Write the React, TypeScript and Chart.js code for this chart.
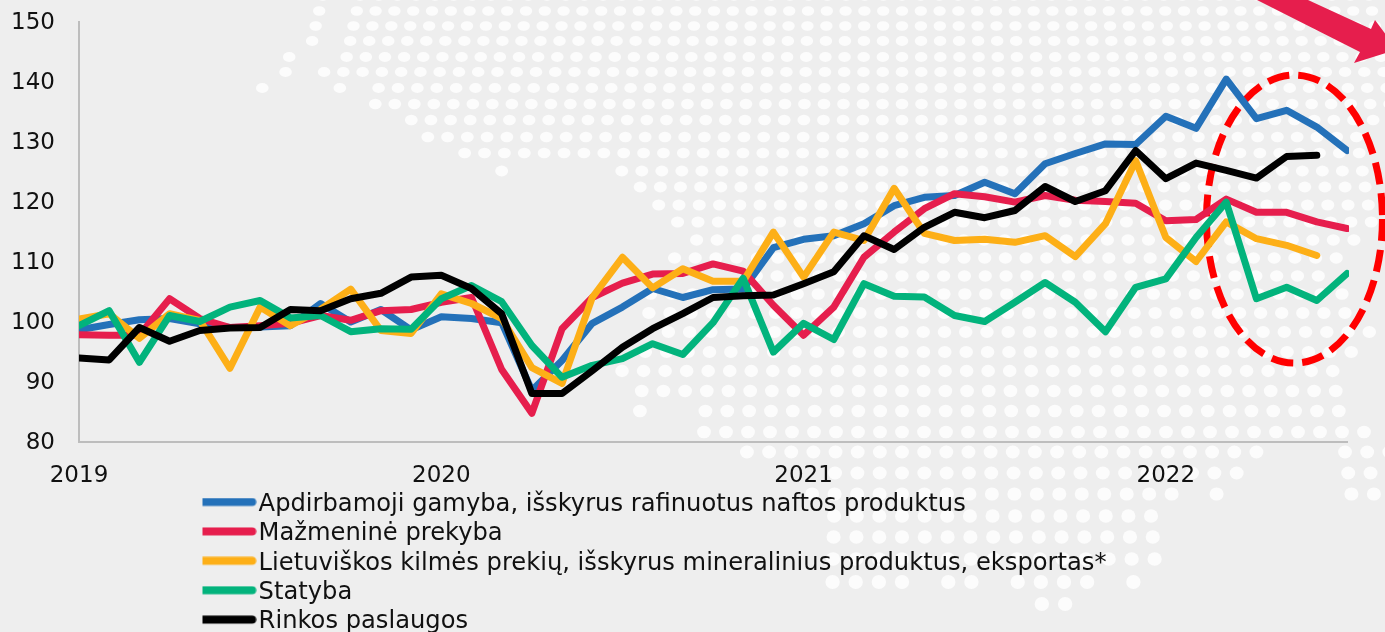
import React, { useEffect, useRef } from "react";
import { Chart, registerables } from "chart.js";

Chart.register(...registerables);

const years = ["2019", "2020", "2021", "2022"];
const months = ["01", "02", "03", "04", "05", "06", "07", "08", "09", "10", "11", "12"];
const categories = [
  ...years.slice(0, 3).flatMap((y) => months.map((m) => `${y}-${m}`)),
  ...months.slice(0, 7).map((m) => `2022-${m}`),
];

const manufacturing = [98.6, 99.5, 100.3, 100.5, 99.6, 99, 99.1, 99.3, 103, 99.9, 102, 98.6, 100.8, 100.5, 99.8, 88.5, 93.5, 99.7, 102.4, 105.5, 104, 105.3, 105.4, 112.3, 113.7, 114.3, 116.3, 119.3, 120.7, 121, 123.2, 121.3, 126.3, 128, 129.6, 129.5, 134.2, 132.2, 140.4, 133.8, 135.2, 132.4, 128.5];
const retail = [97.8, 97.7, 97.7, 103.8, 100.5, 99, 99.3, 99.7, 101, 100.2, 101.8, 102, 103.2, 104, 92, 84.7, 98.8, 104, 106.4, 107.9, 108, 109.6, 108.4, 102.7, 97.7, 102.4, 110.7, 114.9, 118.8, 121.3, 120.8, 119.9, 121, 120.2, 120, 119.7, 116.8, 117, 120.4, 118.2, 118.2, 116.6, 115.5];
const exportsLt = [100.4, 101.3, 97.2, 101.3, 100.2, 92.2, 102.4, 99.3, 102, 105.4, 98.5, 98, 104.6, 103, 100.5, 92.3, 89.7, 104, 110.7, 105.6, 108.8, 106.7, 106.7, 114.9, 107.4, 114.9, 113.5, 122.2, 114.7, 113.5, 113.7, 113.2, 114.3, 110.8, 116.3, 126.8, 114, 110, 116.6, 113.8, 112.7, 111];
const construction = [99.3, 101.8, 93.2, 101, 100, 102.4, 103.5, 100.6, 101, 98.3, 98.8, 98.7, 103.8, 106, 103.3, 96, 90.7, 92.7, 93.8, 96.3, 94.5, 99.8, 107.2, 94.9, 99.7, 97, 106.3, 104.2, 104.1, 101, 100, 103.2, 106.5, 103.2, 98.3, 105.7, 107.1, 114, 119.9, 103.8, 105.7, 103.5, 108];
const services = [93.9, 93.6, 99, 96.7, 98.5, 98.9, 99, 102, 101.8, 103.8, 104.7, 107.4, 107.7, 105.5, 101.3, 88, 88, 91.8, 95.7, 98.8, 101.3, 104, 104.3, 104.4, 106.3, 108.3, 114.3, 112, 115.7, 118.2, 117.3, 118.5, 122.5, 120, 121.8, 128.5, 123.8, 126.4, 125.2, 123.9, 127.5, 127.7];

const seriesNames = [
  "Apdirbamoji gamyba, išskyrus rafinuotus naftos produktus",
  "Mažmeninė prekyba",
  "Lietuviškos kilmės prekių, išskyrus mineralinius produktus, eksportas*",
  "Statyba",
  "Rinkos paslaugos",
];
const seriesColors = ["#2471b9", "#e61e4d", "#fdaf17", "#02b37c", "#000000"];
const seriesValues = [manufacturing, retail, exportsLt, construction, services];

// Decorative dotted world-map background: [row y, [first column, last column] runs]
const mapRows: [number, [number, number][]][] = [
  [-4, [[-31, -31], [-29, 25]]],
  [11, [[-31, -31], [-29, 25]]],
  [26, [[-31, -31], [-29, 25]]],
  [41, [[-31, -31], [-29, 25]]],
  [57, [[-32, -32], [-29, 25]]],
  [72, [[-32, -32], [-30, 25]]],
  [88, [[-33, -33], [-29, -29], [-27, 25]]],
  [104, [[-27, 25]]],
  [120, [[-25, 24]]],
  [137, [[-24, 23]]],
  [153, [[-22, 23]]],
  [171, [[-20, -20], [-14, 23]]],
  [187, [[-13, 23]]],
  [205, [[-12, 23]]],
  [222, [[-11, 23]]],
  [240, [[-10, 22]]],
  [258, [[-11, 21]]],
  [276, [[-7, 20]]],
  [294, [[-12, 21]]],
  [313, [[-12, 21]]],
  [332, [[-11, 22]]],
  [352, [[-12, 21]]],
  [371, [[-13, 20]]],
  [391, [[-12, 20]]],
  [411, [[-12, -12], [-9, 20]]],
  [432, [[-9, 21]]],
  [452, [[-7, 16], [20, 22]]],
  [473, [[-3, 15], [20, 21]]],
  [494, [[-4, 12], [14, 14], [20, 21]]],
  [516, [[-3, 11]]],
  [537, [[-3, 11]]],
  [559, [[-3, 11]]],
  [582, [[-3, 0], [2, 3], [5, 8], [10, 10]]],
  [604, [[6, 7]]],
];

const FONT = "'DejaVu Sans'";
const TICK_SIZE = 23;
const LEGEND_SIZE = 24.2;

function legendSwatch(color: string): HTMLCanvasElement {
  const c = document.createElement("canvas");
  c.width = 59;
  c.height = 14;
  const g = c.getContext("2d")!;
  g.strokeStyle = color;
  g.lineWidth = 8;
  g.lineCap = "round";
  g.beginPath();
  g.moveTo(4.5, 4.5);
  g.lineTo(54.5, 4.5);
  g.stroke();
  return c;
}

const decorations = {
  id: "decorations",
  beforeDraw(chart: any) {
    const { ctx, width, height } = chart;
    ctx.save();
    ctx.fillStyle = "#eeeeee";
    ctx.fillRect(0, 0, width, height);
    ctx.fillStyle = "#fcfcfc";
    for (const [y, runs] of mapRows) {
      const step = 18.8 + 0.0076 * (y - 11);
      const rx = 6.2 + ((y - 11) / 593) * 1.0;
      const ry = 4.8 + ((y - 11) / 593) * 2.2;
      for (const [a, b] of runs) {
        for (let k = a; k <= b; k++) {
          ctx.beginPath();
          ctx.ellipse(902 + k * step, y, rx, ry, 0, 0, Math.PI * 2);
          ctx.fill();
        }
      }
    }
    ctx.restore();
  },
  afterLayout(chart: any) {
    const l = chart.legend;
    l.left = 202.5;
    l.right = 1385;
    l.top = 487.2;
    l.bottom = 800;
  },
  beforeDatasetsDraw(chart: any) {
    const { ctx, scales } = chart;
    ctx.save();
    // dashed highlight ellipse
    ctx.strokeStyle = "#ff0000";
    ctx.lineWidth = 7;
    ctx.setLineDash([22, 9]);
    ctx.beginPath();
    ctx.ellipse(scales.x.getPixelForValue(40.26), scales.y.getPixelForValue(117.08), 88, 144, 0, 0, Math.PI * 2);
    ctx.stroke();
    ctx.setLineDash([]);
    // arrow
    ctx.fillStyle = "#e61e4d";
    ctx.beginPath();
    ctx.moveTo(1257, 0);
    ctx.lineTo(1308, 0);
    ctx.lineTo(1371, 29);
    ctx.lineTo(1375, 20);
    ctx.lineTo(1397, 49.5);
    ctx.lineTo(1354, 63);
    ctx.lineTo(1360, 52);
    ctx.closePath();
    ctx.fill();
    ctx.restore();
  },
};

export default function App() {
  const ref = useRef<HTMLCanvasElement>(null);
  useEffect(() => {
    const chart = new Chart(ref.current!, {
      type: "line",
      data: {
        labels: categories,
        datasets: seriesNames.map((name, i) => ({
          label: name,
          data: seriesValues[i],
          borderColor: seriesColors[i],
          backgroundColor: seriesColors[i],
          borderWidth: 7,
          borderJoinStyle: "round",
          borderCapStyle: "round",
          pointRadius: 0,
          pointStyle: legendSwatch(seriesColors[i]),
          tension: 0,
          clip: { left: 0, right: 2, top: false, bottom: false },
          order: seriesNames.length - i,
        })),
      } as any,
      options: {
        responsive: false,
        animation: false,
        layout: { padding: { left: 0, right: 38, top: 21.5, bottom: 0 } },
        plugins: {
          title: { display: false },
          tooltip: { enabled: false },
          legend: {
            position: "chartArea",
            align: "start",
            labels: {
              usePointStyle: true,
              pointStyleWidth: 38.8,
              padding: 5.2,
              color: "#111111",
              font: { family: FONT, size: LEGEND_SIZE },
              sort: (a: any, b: any) => a.datasetIndex - b.datasetIndex,
            },
          },
        },
        scales: {
          x: {
            type: "category",
            offset: false,
            afterFit: (s: any) => { s.height = 190.5; },
            grid: { display: false, drawTicks: false },
            border: { display: true, color: "#bdbdbd", width: 2 },
            ticks: {
              autoSkip: false,
              maxRotation: 0,
              minRotation: 0,
              padding: 21,
              color: "#111111",
              font: { family: FONT, size: TICK_SIZE },
              callback: (_v: any, i: number) => (i % 12 === 0 ? years[i / 12] : null),
            },
          },
          y: {
            min: 80,
            max: 150,
            afterFit: (s: any) => { s.width = 79; s.paddingTop = 0; s.paddingBottom = 0; },
            grid: { display: false, drawTicks: false },
            border: { display: true, color: "#bdbdbd", width: 2 },
            ticks: {
              stepSize: 10,
              padding: 24,
              labelOffset: 2,
              color: "#111111",
              font: { family: FONT, size: TICK_SIZE },
            },
          },
        },
      } as any,
      plugins: [decorations as any],
    });
    return () => chart.destroy();
  }, []);
  return (
    <div style={{ position: "absolute", left: 0, top: 0, width: 1385, height: 632, overflow: "hidden" }}>
      <canvas ref={ref} width={1385} height={632} style={{ display: "block" }} />
    </div>
  );
}
